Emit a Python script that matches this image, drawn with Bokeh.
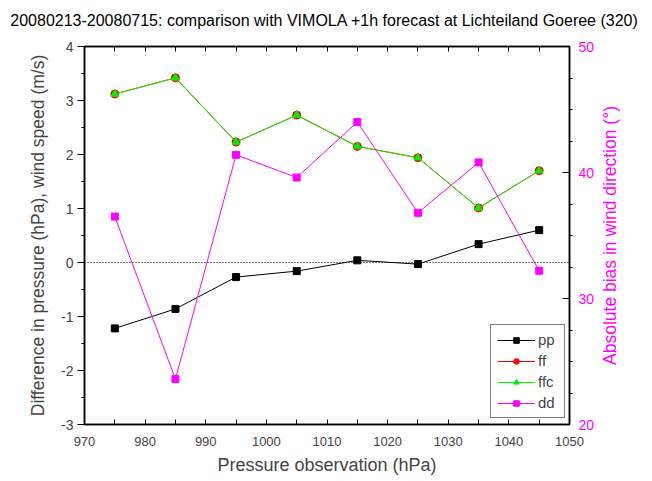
import math
from bokeh.plotting import figure
from bokeh.layouts import row, column
from bokeh.models import (LinearAxis, Range1d, Span, Legend, LegendItem,
                          FixedTicker)
from bokeh.core.properties import value
from bokeh.embed import file_html
from bokeh.resources import INLINE

# ---- data ----
pressure = [975, 985, 995, 1005, 1015, 1025, 1035, 1045]
pp = [-1.22, -0.86, -0.27, -0.16, 0.04, -0.03, 0.34, 0.60]
ff = [3.12, 3.42, 2.23, 2.73, 2.15, 1.94, 1.01, 1.70]
ffc = [3.12, 3.42, 2.23, 2.73, 2.15, 1.94, 1.01, 1.70]
dd = [36.5, 23.6, 41.4, 39.6, 44.0, 36.8, 40.8, 32.2]

x_ticks = [970, 980, 990, 1000, 1010, 1020, 1030, 1040, 1050]
y_ticks = [-3, -2, -1, 0, 1, 2, 3, 4]
y2_ticks = [20, 30, 40, 50]

title_text = "20080213-20080715: comparison with VIMOLA +1h forecast at Lichteiland Goeree (320)"
x_label = "Pressure observation (hPa)"
y_label = "Difference in pressure (hPa), wind speed (m/s)"
y2_label = "Absolute bias in wind direction (\u00b0)"

FONT = "Liberation Sans"
MAG = "#ff00ff"

TITLE_H = 30
MAIN_H = 481 - TITLE_H

# ---- title strip ----
pt = figure(width=652, height=TITLE_H, output_backend="svg", toolbar_location=None,
            x_range=Range1d(0, 652), y_range=Range1d(0, TITLE_H),
            x_axis_location=None, y_axis_location=None,
            min_border_left=0, min_border_right=0, min_border_top=0,
            min_border_bottom=0, title=None)
pt.outline_line_color = None
pt.xgrid.visible = False
pt.ygrid.visible = False
pt.border_fill_color = "white"
pt.background_fill_color = "white"
pt.text(x=[324], y=[TITLE_H - 20], text=[title_text], text_align="center",
        text_baseline="middle", text_font=value(FONT), text_font_size="16px",
        text_color="black")

# ---- main plot ----
p = figure(width=597, height=MAIN_H, output_backend="svg", toolbar_location=None,
           x_range=Range1d(970, 1050), y_range=Range1d(-3, 4),
           min_border_left=84, min_border_right=28, min_border_top=46 - TITLE_H,
           min_border_bottom=57, title=None)
p.outline_line_color = "black"
p.outline_line_width = 1.5
p.xgrid.visible = False
p.ygrid.visible = False
p.background_fill_color = "white"
p.border_fill_color = "white"

p.extra_y_ranges = {"dd": Range1d(20, 50)}

# bottom axis
xa = p.below[0]
xa.ticker = FixedTicker(ticks=x_ticks,
                        minor_ticks=[v + 5 for v in x_ticks[:-1]])
xa.axis_label = x_label
xa.axis_label_text_font = FONT
xa.axis_label_text_font_size = "18px"
xa.axis_label_text_font_style = "normal"
xa.major_label_text_font = FONT
xa.major_label_text_font_size = "13px"
xa.major_tick_in = 5
xa.major_tick_out = 0
xa.minor_tick_in = 5
xa.minor_tick_out = 0
xa.axis_line_width = 1.5
xa.major_label_standoff = 12
xa.axis_label_standoff = 6

# top axis (ticks only, as minor ticks so no labels)
top = LinearAxis(ticker=FixedTicker(ticks=[], minor_ticks=list(range(975, 1050, 5))),
                 major_tick_in=0, major_tick_out=0,
                 minor_tick_in=5, minor_tick_out=0, axis_line_width=1.5,
                 major_label_standoff=0)
p.add_layout(top, "above")

# left axis
ya = p.left[0]
ya.ticker = FixedTicker(ticks=y_ticks,
                        minor_ticks=[v + 0.5 for v in y_ticks[:-1]])
ya.major_label_overrides = {v: str(v) for v in y_ticks}
ya.axis_label = y_label
ya.axis_label_text_font = FONT
ya.axis_label_text_font_size = "17.5px"
ya.axis_label_text_font_style = "normal"
ya.major_label_text_font = FONT
ya.major_label_text_font_size = "14px"
ya.major_tick_in = 0
ya.major_tick_out = 7
ya.minor_tick_in = 0
ya.minor_tick_out = 3
ya.axis_line_width = 1.5
ya.major_label_standoff = 4
ya.axis_label_standoff = 10

# right axis
ra = LinearAxis(y_range_name="dd",
                ticker=FixedTicker(ticks=y2_ticks,
                                   minor_ticks=[22.5, 25, 27.5, 32.5, 35, 37.5, 42.5, 45, 47.5]))
ra.major_label_text_font = FONT
ra.major_label_text_font_size = "14px"
ra.major_label_text_color = MAG
ra.major_tick_in = 7
ra.major_tick_out = 0
ra.minor_tick_in = 0
ra.minor_tick_out = 3
ra.axis_line_width = 1.5
ra.major_label_standoff = 6
p.add_layout(ra, "right")

# zero line
p.add_layout(Span(location=0, dimension="width", line_color="black",
                  line_dash="1 2", line_width=1))

# series
l_pp = p.line(pressure, pp, line_color="black", line_width=1)
m_pp = p.scatter(pressure, pp, marker="square", size=7, color="black")
l_ff = p.line(pressure, ff, line_color="red", line_width=1)
m_ff = p.scatter(pressure, ff, marker="circle", size=8, color="red")
l_ffc = p.line(pressure, ffc, line_color="#00ff00", line_width=1)
m_ffc = p.scatter(pressure, ffc, marker="triangle", size=8, color="#00ee00")
l_dd = p.line(pressure, dd, line_color=MAG, line_width=1, y_range_name="dd")
m_dd = p.scatter(pressure, dd, marker="square", size=7, color=MAG, y_range_name="dd")

legend = Legend(items=[
    LegendItem(label="pp", renderers=[l_pp, m_pp]),
    LegendItem(label="ff", renderers=[l_ff, m_ff]),
    LegendItem(label="ffc", renderers=[l_ffc, m_ffc]),
    LegendItem(label="dd", renderers=[l_dd, m_dd]),
], location=(406, 6), border_line_color="black", border_line_width=1,
    background_fill_color="white", background_fill_alpha=1,
    label_text_font=FONT, label_text_font_size="15px",
    glyph_width=38, glyph_height=14, label_standoff=3, spacing=4,
    padding=6, margin=0, label_height=14)
p.add_layout(legend, "center")

# ---- narrow strip on the right carrying the right-axis title (bottom-to-top) ----
p2 = figure(width=55, height=MAIN_H, output_backend="svg", toolbar_location=None,
            x_range=Range1d(0, 55), y_range=Range1d(0, 1),
            x_axis_location=None, y_axis_location=None,
            min_border_left=0, min_border_right=0, min_border_top=46 - TITLE_H,
            min_border_bottom=57, title=None)
p2.outline_line_color = None
p2.xgrid.visible = False
p2.ygrid.visible = False
p2.border_fill_color = "white"
p2.background_fill_color = "white"
p2.text(x=[12], y=[0.5], text=[y2_label], angle=math.pi / 2,
        text_align="center", text_baseline="middle",
        text_font=value(FONT), text_font_size="17.5px", text_color=MAG)

layout = column(pt, row(p, p2, spacing=0), spacing=0)
open("out.html", "w").write(file_html(layout, INLINE))
